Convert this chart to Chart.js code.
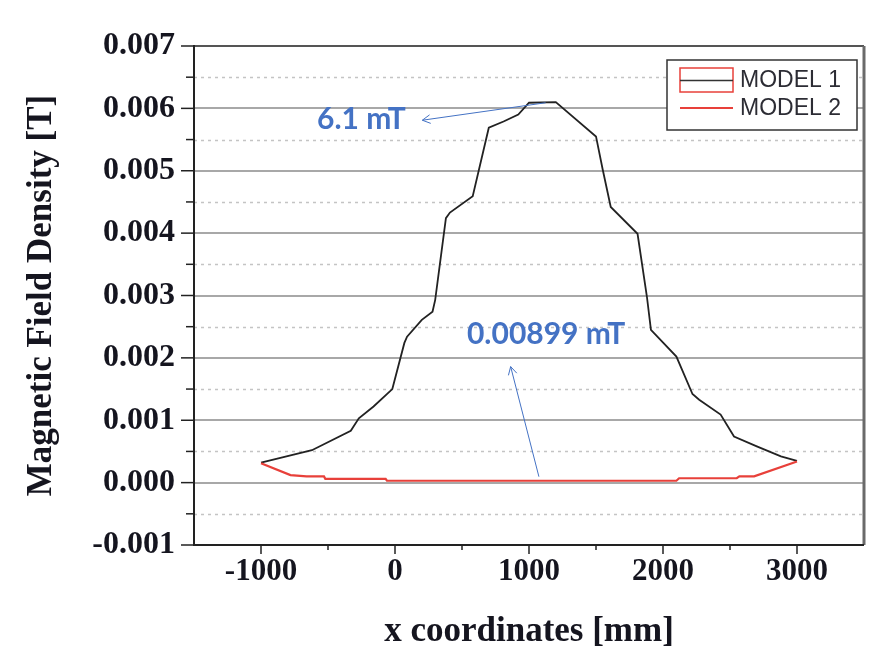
<!DOCTYPE html>
<html>
<head>
<meta charset="utf-8">
<script src="https://cdn.jsdelivr.net/npm/chart.js@4.4.1/dist/chart.umd.min.js"></script>
<style>
  html, body { margin: 0; padding: 0; background: #fff; }
  #wrap { width: 890px; height: 658px; }
</style>
</head>
<body>
<div id="wrap"><canvas id="chart" width="890" height="658"></canvas></div>
<script>
// ===== Dados
const xModel1 = [-1000, -620, -330, -270, -160, -20, 70, 90, 200, 280, 300, 380, 410, 580, 700, 810, 920, 1000, 1200,
                 1500, 1550, 1610, 1810, 1880, 1910, 2100, 2220, 2270, 2430, 2530, 2700, 2880, 3000];
const yModel1 = [0.00032, 0.00052, 0.00083, 0.00103, 0.00122, 0.0015, 0.00224, 0.00234, 0.00261, 0.00274, 0.00293,
                 0.00424, 0.00433, 0.00459, 0.00569, 0.00579, 0.0059, 0.00609, 0.0061,
                 0.00555, 0.00502, 0.00442, 0.00399, 0.00298, 0.00245, 0.00202, 0.00142, 0.00133, 0.00109,
                 0.00074, 0.00058, 0.00042, 0.00035];

const xModel2 = [-1000, -780, -660, -530, -520, -70, -60, 1000, 2100, 2120, 2550, 2570, 2680, 3000];
const yModel2 = [0.00031, 0.00012, 0.0001, 0.0001, 0.00006, 0.00006, 0.00003, 0.00003, 0.00003, 0.00007,
                 0.00007, 0.0001, 0.0001, 0.00034];

const xTicks = [-1000, 0, 1000, 2000, 3000];
const xMinorTicks = [-500, 500, 1500, 2500];
const yTicks = [-0.001, 0, 0.001, 0.002, 0.003, 0.004, 0.005, 0.006, 0.007];
const yMinorTicks = [-0.0005, 0.0005, 0.0015, 0.0025, 0.0035, 0.0045, 0.0055, 0.0065];

const seriesNames = ['MODEL 1', 'MODEL 2'];
const notes = [
  { text: '6.1 mT', tip: [1124, 0.00609], tail: [204, 0.00581], at: [80, 0.00582], align: 'right' },
  { text: '0.00899 mT', tip: [1074, 0.000095], tail: [863, 0.00186], at: [537, 0.00237], align: 'left' }
];

// ===== Estilos
const INK = '#15151f';
const BLUE = '#4472c4';
const RED = '#e8403a';
const SERIF = '"Liberation Serif", "Times New Roman", serif';

const zip = (xs, ys) => xs.map((x, i) => ({ x, y: ys[i] }));

// grade, ticks, moldura, anotações e legenda desenhados à mão
const decor = {
  id: 'decor',
  beforeDatasetsDraw(chart) {
    const { ctx, chartArea: a, scales: { y } } = chart;
    ctx.save();
    ctx.strokeStyle = '#c4c4c4';
    ctx.lineWidth = 1.5;
    ctx.setLineDash([3, 4]);
    yMinorTicks.forEach(v => {
      const py = Math.round(y.getPixelForValue(v)) + 0.5;
      ctx.beginPath(); ctx.moveTo(a.left, py); ctx.lineTo(a.right, py); ctx.stroke();
    });
    ctx.setLineDash([]);
    ctx.strokeStyle = '#a8a8a8';
    ctx.lineWidth = 2;
    yTicks.slice(1, -1).forEach(v => {
      const py = Math.round(y.getPixelForValue(v));
      ctx.beginPath(); ctx.moveTo(a.left, py); ctx.lineTo(a.right, py); ctx.stroke();
    });
    ctx.restore();
  },
  afterDatasetsDraw(chart) {
    const { ctx, chartArea: a, scales: { x, y } } = chart;
    ctx.save();

    // moldura
    ctx.strokeStyle = '#555';
    ctx.lineWidth = 2;
    ctx.beginPath(); ctx.moveTo(a.left, a.top); ctx.lineTo(a.right, a.top); ctx.stroke();
    ctx.strokeStyle = '#6a6a6a';
    ctx.lineWidth = 3;
    ctx.beginPath(); ctx.moveTo(a.right, a.top); ctx.lineTo(a.right, a.bottom); ctx.stroke();
    ctx.strokeStyle = '#222';
    ctx.lineWidth = 2;
    ctx.beginPath(); ctx.moveTo(a.left, a.top - 1); ctx.lineTo(a.left, a.bottom); ctx.lineTo(a.right, a.bottom); ctx.stroke();

    // ticks
    ctx.lineWidth = 1.5;
    yTicks.forEach(v => { const py = y.getPixelForValue(v); ctx.beginPath(); ctx.moveTo(a.left - 13, py); ctx.lineTo(a.left, py); ctx.stroke(); });
    yMinorTicks.forEach(v => { const py = y.getPixelForValue(v); ctx.beginPath(); ctx.moveTo(a.left - 8, py); ctx.lineTo(a.left, py); ctx.stroke(); });
    xTicks.forEach(v => { const px = x.getPixelForValue(v); ctx.beginPath(); ctx.moveTo(px, a.bottom); ctx.lineTo(px, a.bottom + 9); ctx.stroke(); });
    xMinorTicks.forEach(v => { const px = x.getPixelForValue(v); ctx.beginPath(); ctx.moveTo(px, a.bottom); ctx.lineTo(px, a.bottom + 5); ctx.stroke(); });

    // anotações (setas azuis)
    ctx.strokeStyle = BLUE;
    ctx.fillStyle = BLUE;
    ctx.lineWidth = 1;
    ctx.font = 'bold 30px Lato, "Open Sans", sans-serif';
    ctx.textBaseline = 'middle';
    notes.forEach(n => {
      const x0 = x.getPixelForValue(n.tip[0]), y0 = y.getPixelForValue(n.tip[1]);
      const x1 = x.getPixelForValue(n.tail[0]), y1 = y.getPixelForValue(n.tail[1]);
      ctx.beginPath(); ctx.moveTo(x0, y0); ctx.lineTo(x1, y1); ctx.stroke();
      const ang = Math.atan2(y0 - y1, x0 - x1);
      ctx.beginPath();
      ctx.moveTo(x1 + 9 * Math.cos(ang - 0.5), y1 + 9 * Math.sin(ang - 0.5));
      ctx.lineTo(x1, y1);
      ctx.lineTo(x1 + 9 * Math.cos(ang + 0.5), y1 + 9 * Math.sin(ang + 0.5));
      ctx.stroke();
      ctx.textAlign = n.align;
      ctx.fillText(n.text, x.getPixelForValue(n.at[0]), y.getPixelForValue(n.at[1]));
    });

    // legenda
    const L = { x: 667, y: 60, w: 190, h: 70 };
    ctx.fillStyle = '#fff';
    ctx.fillRect(L.x, L.y, L.w, L.h);
    ctx.strokeStyle = '#333';
    ctx.lineWidth = 1.5;
    ctx.strokeRect(L.x, L.y, L.w, L.h);
    ctx.strokeStyle = RED;
    ctx.strokeRect(680, 68, 53, 24);
    ctx.strokeStyle = '#333';
    ctx.beginPath(); ctx.moveTo(680, 80.5); ctx.lineTo(733, 80.5); ctx.stroke();
    ctx.strokeStyle = RED;
    ctx.lineWidth = 2;
    ctx.beginPath(); ctx.moveTo(680, 108); ctx.lineTo(733, 108); ctx.stroke();
    ctx.fillStyle = '#2c2c34';
    ctx.font = '23px "Liberation Sans", Arial, sans-serif';
    ctx.textAlign = 'left';
    ctx.fillText(seriesNames[0], 740, 81);
    ctx.fillText(seriesNames[1], 740, 109);

    ctx.restore();
  }
};

new Chart(document.getElementById('chart'), {
  type: 'line',
  data: {
    datasets: [
      { label: seriesNames[0], data: zip(xModel1, yModel1), borderColor: '#222', borderWidth: 1.8, pointRadius: 0, tension: 0, order: 2 },
      { label: seriesNames[1], data: zip(xModel2, yModel2), borderColor: RED, borderWidth: 2.2, pointRadius: 0, tension: 0, order: 1 }
    ]
  },
  options: {
    responsive: false,
    animation: false,
    layout: { padding: { top: 46, right: 26, bottom: 0, left: 0 } },
    plugins: { legend: { display: false }, tooltip: { enabled: false } },
    scales: {
      x: {
        type: 'linear',
        min: -1500, max: 3500,
        grid: { display: false, drawTicks: false },
        border: { display: false },
        afterBuildTicks: s => { s.ticks = xTicks.map(v => ({ value: v })); },
        afterFit: s => { s.height = 113; },
        ticks: { color: INK, font: { family: SERIF, size: 31, weight: 'bold' }, padding: 8, maxRotation: 0, callback: v => String(v) },
        title: { display: true, text: 'x coordinates [mm]', color: INK, font: { family: SERIF, size: 35, weight: 'bold' }, padding: { top: 0, bottom: 5 } }
      },
      y: {
        min: -0.001, max: 0.007,
        grid: { display: false, drawTicks: false },
        border: { display: false },
        afterBuildTicks: s => { s.ticks = yTicks.map(v => ({ value: v })); },
        afterFit: s => { s.width = 194; },
        ticks: { color: INK, font: { family: SERIF, size: 32, weight: 'bold' }, padding: 19, callback: v => v.toFixed(3) },
        title: { display: true, text: 'Magnetic Field Density [T]', color: INK, font: { family: SERIF, size: 35, weight: 'bold' }, padding: { top: 21, bottom: 0 } }
      }
    }
  },
  plugins: [decor]
});
</script>
</body>
</html>
